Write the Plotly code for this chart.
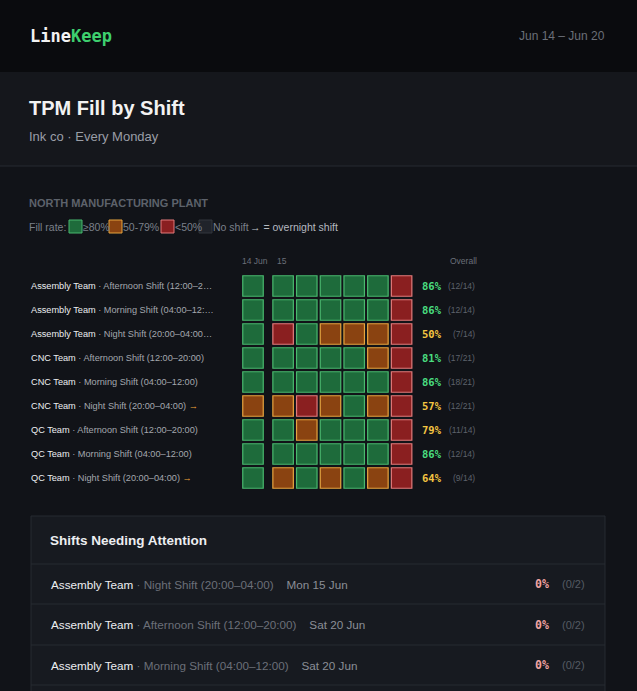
import plotly.graph_objects as go

W, H = 637, 691
teams = ["Assembly Team"]*3 + ["CNC Team"]*3 + ["QC Team"]*3
shifts = ["Afternoon Shift (12:00–2…", "Morning Shift (04:00–12:…", "Night Shift (20:00–04:00…",
          "Afternoon Shift (12:00–20:00)", "Morning Shift (04:00–12:00)", "Night Shift (20:00–04:00)",
          "Afternoon Shift (12:00–20:00)", "Morning Shift (04:00–12:00)", "Night Shift (20:00–04:00)"]
overnight = [False, False, False, False, False, True, False, False, True]
# 2 = >=80%, 1 = 50-79%, 0 = <50%
status = [
    [2, 2, 2, 2, 2, 2, 0],
    [2, 2, 2, 2, 2, 2, 0],
    [2, 0, 2, 1, 1, 1, 0],
    [2, 2, 2, 2, 2, 1, 0],
    [2, 2, 2, 2, 2, 2, 0],
    [1, 1, 0, 1, 2, 1, 0],
    [2, 2, 1, 2, 2, 2, 0],
    [2, 2, 2, 2, 2, 2, 0],
    [2, 1, 2, 1, 2, 1, 0],
]
overall_pct = [86, 86, 50, 81, 86, 57, 79, 86, 64]
overall_frac = ["12/14", "12/14", "7/14", "17/21", "18/21", "12/21", "11/14", "12/14", "9/14"]
att_team = ["Assembly Team"]*3
att_shift = ["Night Shift (20:00–04:00)", "Afternoon Shift (12:00–20:00)", "Morning Shift (04:00–12:00)"]
att_date = ["Mon 15 Jun", "Sat 20 Jun", "Sat 20 Jun"]
att_pct = [0, 0, 0]
att_frac = ["0/2", "0/2", "0/2"]

FILL = {2: "#1e6b3b", 1: "#8a4311", 0: "#8a1f20"}
EDGE = {2: "#49b86e", 1: "#e6a43f", 0: "#e27b7b"}

def px(x): return x / W
def py(y): return 1 - y / H

shapes, ann = [], []
def rect(x0, y0, x1, y1, fill, line=None, lw=0):
    shapes.append(dict(type="rect", xref="paper", yref="paper", x0=px(x0), x1=px(x1), y0=py(y1), y1=py(y0),
                       fillcolor=fill, line=dict(color=line or fill, width=lw), layer="below"))
def hline(y, x0, x1, c):
    shapes.append(dict(type="line", xref="paper", yref="paper", x0=px(x0), x1=px(x1), y0=py(y), y1=py(y),
                       line=dict(color=c, width=1), layer="below"))
def text(x, y, s, size, color, anchor="left", family="Liberation Sans"):
    dx = -2 if anchor == "left" else 2
    ann.append(dict(xref="paper", yref="paper", x=px(x + dx), y=py(y), text=s, showarrow=False,
                    xanchor=anchor, yanchor="middle", font=dict(size=size, color=color, family=family)))

rect(0, 0, W, 72, "#0a0b0e")
rect(0, 72, W, 166, "#15171c")
hline(166, 0, W, "#272a31")
rect(31, 516, 605, 700, "#171a20", "#262a31", 1)
for y in [564, 604, 645, 685]:
    hline(y, 31, 605, "#262a31")

text(30, 36, "<b>Line<span style='color:#3ecf6e'>Keep</span></b>", 17, "#f2f2f2", family="DejaVu Sans Mono")
text(605, 36, "Jun 14 – Jun 20", 12, "#6b6f78", anchor="right")
text(29, 108, "<b>TPM Fill by Shift</b>", 20, "#f2f2f2")
text(29, 137, "Ink co · Every Monday", 13, "#9a9ea7")
text(29, 203, "<b>NORTH MANUFACTURING PLANT</b>", 11, "#5d626b")
text(29, 227, "Fill rate:", 10.5, "#7b808a")
lx = 69
for k, lab in [(2, "≥80%"), (1, "50-79%"), (0, "<50%"), (None, "No shift")]:
    fc = FILL[k] if k is not None else "#20232a"
    ec = EDGE[k] if k is not None else "#33363d"
    rect(lx, 220, lx + 13, 233, fc, ec, 1)
    text(lx + 14, 227, lab, 10.5, "#7b808a")
    lx += 13 + {"≥80%": 27, "50-79%": 39, "<50%": 25, "No shift": 40}[lab]
text(lx - 2, 227, "<span style='color:#c0c4ca'>→</span><span style='color:#b5b9c0'> = overnight shift</span>", 10.5, "#b5b9c0")
text(242, 261, "14 Jun", 8.5, "#6b6f78")
text(277, 261, "15", 8.5, "#6b6f78")
text(477, 261, "Overall", 8.5, "#6b6f78", anchor="right")

for i in range(9):
    y = 286 + 24 * i
    arrow = " <span style='color:#f0a53a'>→</span>" if overnight[i] else ""
    text(31, y, f"<span style='color:#eceef1'>{teams[i]}</span><span style='color:#a3a7ae'> · {shifts[i]}</span>{arrow}", 9.2, "#a3a7ae")
    col = "#4ade80" if overall_pct[i] >= 80 else "#f5c542"
    text(442, y, f"<b>{overall_pct[i]}%</b>", 10.5, col, anchor="right", family="DejaVu Sans Mono")
    text(475, y, f"({overall_frac[i]})", 8.5, "#5d626b", anchor="right")

text(50, 540, "<b>Shifts Needing Attention</b>", 13.5, "#eceef1")
for i in range(3):
    y = 584 + 40.5 * i
    text(51, y, f"<span style='color:#eceef1'>{att_team[i]}</span><span style='color:#6b6f78'> · {att_shift[i]}</span>"
                f"<span style='color:#8a8e96'>    {att_date[i]}</span>", 11.7, "#eceef1")
    text(549, y, f"<b>{att_pct[i]}%</b>", 11.5, "#f0a3a3", anchor="right", family="DejaVu Sans Mono")
    text(585, y, f"({att_frac[i]})", 11, "#555a63", anchor="right")

xs, ys, fc, ec = [], [], [], []
for i, row in enumerate(status):
    for d, s in enumerate(row):
        xs.append(d + (0.27 if d >= 1 else 0))
        ys.append(i)
        fc.append(FILL[s]); ec.append(EDGE[s])

fig = go.Figure(go.Scatter(x=xs, y=ys, mode="markers", hoverinfo="skip",
                           marker=dict(symbol="square", size=20.5, color=fc, line=dict(color=ec, width=1.2))))
step_x, step_y = 23.7, 24
fig.update_layout(
    width=W, height=H, margin=dict(l=0, r=0, t=0, b=0),
    paper_bgcolor="#111318", plot_bgcolor="rgba(0,0,0,0)", showlegend=False,
    shapes=shapes, annotations=ann,
    xaxis=dict(range=[-253 / step_x, (W - 253) / step_x], visible=False, fixedrange=True),
    yaxis=dict(range=[(H - 286) / step_y, -286 / step_y], visible=False, fixedrange=True),
)
fig.write_html("out.html", config={"displayModeBar": False},
               post_script="document.body.style.margin='0';document.body.style.background='#111318';")
